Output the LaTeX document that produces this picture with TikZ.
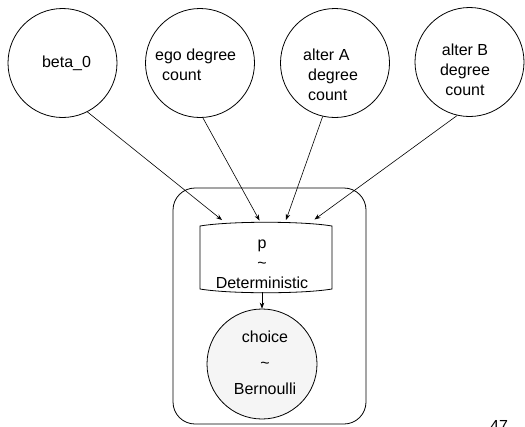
\documentclass[tikz,border=0pt]{standalone}
\usepackage{fontspec}
\setmainfont{Liberation Sans}
\usetikzlibrary{arrows.meta}
\definecolor{choicefill}{RGB}{245,245,245}
\tikzset{
  base/.style={line width=0.8pt, draw=black},
  varnode/.style={base, circle, minimum size=109pt, inner sep=0pt, fill=white},
  lbl/.style={inner sep=0pt, font=\fontsize{16}{20}\selectfont},
  conn/.style={line width=0.6pt, -{Stealth[length=6pt,width=4.5pt]}},
  plate/.style={line width=0.8pt, rounded corners=22pt}
}
\begin{document}
\begin{tikzpicture}[x=1pt,y=-1pt]
\useasboundingbox (0,0) rectangle (525,426);
% plate
\draw[plate] (173,188) rectangle (366,424);
% parent nodes
\node[varnode] (c1) at (62.5,63) {};
\node[varnode] (c2) at (200,63) {};
\node[varnode] (c3) at (335,63) {};
\node[varnode] (c4) at (469.5,62) {};
\node[lbl, anchor=base] (t1txt) at (66.5,67) {beta\_0};
\node[lbl, anchor=north west, align=left] (t2txt) at (155,48.4) {ego degree\\\hspace*{7pt}count};
\node[lbl, anchor=north west, align=left] (t3txt) at (303,48.4) {alter A\\\hspace*{5pt}degree\\\hspace*{5pt}count};
\node[lbl, anchor=north, align=center] (t4txt) at (465,43.4) {alter B\\degree\\count};
% deterministic node
\node[inner sep=0pt, minimum width=132pt, minimum height=66pt] (p) at (266,257.5) {};
\draw[base] (200,226) .. controls (230,221) and (302,221) .. (332,226)
  -- (332,289) .. controls (302,294) and (230,294) .. (200,289) -- cycle;
\node[lbl, anchor=north, align=center] (ptxt) at (262,239.7) {p\\\textasciitilde\\Deterministic};
% choice node
\node[varnode, fill=choicefill, minimum size=110pt] (ch) at (262,364) {};
\node[lbl, anchor=north, align=center, font=\fontsize{16}{26}\selectfont] (chtxt) at (265,330.4) {choice\\\textasciitilde\\Bernoulli};
% arrow targets
\coordinate (e1) at (222,220);
\coordinate (e2) at (259.5,220.5);
\coordinate (e3) at (286,220);
\coordinate (e4) at (314.5,219.5);
\coordinate (pb) at (262,292);
\draw[conn] (c1.-63.4) -- (e1);
\draw[conn] (c2.-87) -- (e2);
\draw[conn] (c3.-103.6) -- (e3);
\draw[conn] (c4.-103) -- (e4);
\draw[conn] (pb) -- (ch);
% page number
\node[lbl, anchor=base west] (pg) at (490,431) {47};
\end{tikzpicture}
\end{document}
